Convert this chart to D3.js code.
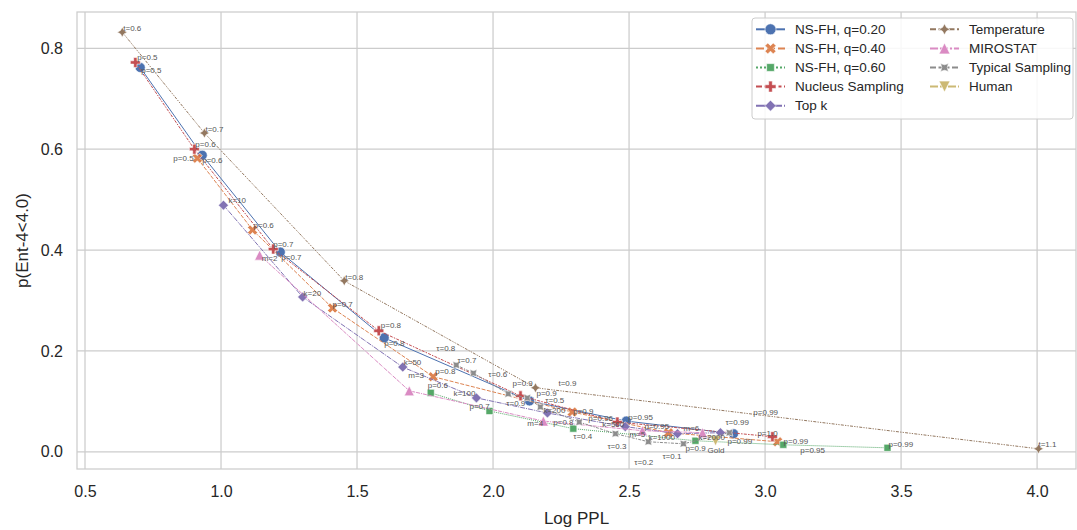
<!DOCTYPE html>
<html>
<head>
<meta charset="utf-8">
<title>p(Ent) vs Log PPL</title>
<script src="https://d3js.org/d3.v7.min.js"></script>
<style>
  body { margin: 0; background: #fff; }
  svg { font-family: "Liberation Sans", Arial, sans-serif; }
  .tick-label { fill: #262626; font-size: 16px; }
  .axis-title { fill: #262626; font-size: 17px; }
  .pt-label { fill: #555; font-size: 8px; }
  .legend text { fill: #262626; font-size: 13.5px; }
</style>
</head>
<body>
<svg width="1077" height="530"></svg>
<script>
// ---- data ----
const seriesNames = ["NS-FH, q=0.20", "NS-FH, q=0.40", "NS-FH, q=0.60", "Nucleus Sampling",
                     "Top k", "Temperature", "MIROSTAT", "Typical Sampling", "Human"];

const nsfh20Labels = ["p=0.5", "p=0.6", "p=0.7", "p=0.8", "p=0.9", "p=0.95", "p=0.99"];
const nsfh20PPL = [0.703, 0.931, 1.218, 1.600, 2.134, 2.490, 2.884];
const nsfh20Ent = [0.762, 0.588, 0.396, 0.226, 0.101, 0.061, 0.036];

const nsfh40Labels = ["p=0.5", "p=0.6", "p=0.7", "p=0.8", "p=0.9", "p=0.95", "p=0.99"];
const nsfh40PPL = [0.913, 1.116, 1.410, 1.780, 2.291, 2.645, 3.046];
const nsfh40Ent = [0.582, 0.440, 0.285, 0.149, 0.079, 0.038, 0.020];

const nsfh60Labels = ["p=0.6", "p=0.7", "p=0.8", "p=0.9", "p=0.95", "p=0.99"];
const nsfh60PPL = [1.771, 1.987, 2.295, 2.744, 3.067, 3.450];
const nsfh60Ent = [0.117, 0.081, 0.046, 0.022, 0.014, 0.008];

const nucleusLabels = ["p=0.5", "p=0.6", "p=0.7", "p=0.8", "p=0.9", "p=0.96", "p=1.0"];
const nucleusPPL = [0.685, 0.902, 1.192, 1.580, 2.101, 2.457, 3.027];
const nucleusEnt = [0.772, 0.600, 0.402, 0.240, 0.111, 0.059, 0.030];

const topkLabels = ["k=10", "k=20", "k=50", "k=100", "k=200", "k=500", "k=1000", "k=2000"];
const topkPPL = [1.009, 1.300, 1.668, 1.939, 2.200, 2.486, 2.678, 2.836];
const topkEnt = [0.489, 0.307, 0.168, 0.107, 0.077, 0.050, 0.036, 0.038];

const tempLabels = ["t=0.6", "t=0.7", "t=0.8", "t=0.9", "t=1.1"];
const tempPPL = [0.637, 0.939, 1.453, 2.156, 4.005];
const tempEnt = [0.832, 0.632, 0.339, 0.127, 0.006];

const miroLabels = ["m=2", "m=3", "m=4", "m=5", "m=6"];
const miroPPL = [1.142, 1.692, 2.185, 2.549, 2.770];
const miroEnt = [0.390, 0.121, 0.061, 0.042, 0.038];

const typicalLabels = ["τ=0.8", "τ=0.7", "τ=0.6", "τ=0.9", "τ=0.5", "τ=0.4", "τ=0.3", "τ=0.2", "τ=0.1", "τ=0.99"];
const typicalPPL = [1.865, 1.928, 2.056, 2.126, 2.174, 2.317, 2.450, 2.571, 2.700, 2.869];
const typicalEnt = [0.172, 0.156, 0.115, 0.107, 0.089, 0.059, 0.036, 0.020, 0.016, 0.038];

const humanLabels = ["Gold"];
const humanPPL = [2.818];
const humanEnt = [0.022];

// a label in the reference that sits on the temperature line without a marker
const extraLabels = [{ text: "p=0.99", ppl: 2.957, ent: 0.079 }];

const xTicks = [0.5, 1.0, 1.5, 2.0, 2.5, 3.0, 3.5, 4.0];
const yTicks = [0.0, 0.2, 0.4, 0.6, 0.8];

// ---- styles (seaborn deep palette, default markers and dashes) ----
const colors = ["#4c72b0", "#dd8452", "#55a868", "#c44e52", "#8172b3", "#937860", "#da8bc3", "#8c8c8c", "#ccb974"];
const markers = ["o", "X", "sq", "P", "dia", "star", "^", "starR", "v"];
const dashes = [null, [4, 1.5], [1, 1], [3, 1.25, 1.5, 1.25], [5, 1, 1, 1],
                [3, 1.25, 1.25, 1.25, 1.25, 1.25], [4, 1, 4, 1, 1, 1],
                [3, 1.25, 3, 1.25, 1.25, 1.25], [4, 1, 1, 1, 1, 1]];

// label offsets in px (left edge, vertical centre) relative to the marker
const labelNudge = [
  [[1, 3], [0, 5], [1, 5], [0, 5], [7, -8], [2, -4], [-6, 8]],
  [[-24, 0], [1, -5], [0, -4], [2, -5], [1, -1], [-24, -6], [6, -1]],
  [[-3, -8], [-20, -5], [-20, -6], [-10, 7], [17, 5], [1, -4]],
  [[2, -5], [1, -5], [0, -5], [2, -6], [-8, -13], [-29, -4], [-15, -4]],
  [[5, -5], [1, -4], [1, -5], [-23, -5], [-4, -3], [-23, -2], [-29, 4], [-22, 5]],
  [[1, -4], [1, -4], [1, -4], [23, -5], [0, -5]],
  [[2, 3], [-1, -16], [-16, 2], [-13, 4], [-19, -4]],
  [[-20, -17], [-16, -13], [-20, -20], [-21, 5], [5, -7], [-6, 14], [-8, 13], [-14, 20], [-21, 12], [-4, -10]],
  [[-8, 9]]
];

const rawSeries = [
  [nsfh20PPL, nsfh20Ent, nsfh20Labels],
  [nsfh40PPL, nsfh40Ent, nsfh40Labels],
  [nsfh60PPL, nsfh60Ent, nsfh60Labels],
  [nucleusPPL, nucleusEnt, nucleusLabels],
  [topkPPL, topkEnt, topkLabels],
  [tempPPL, tempEnt, tempLabels],
  [miroPPL, miroEnt, miroLabels],
  [typicalPPL, typicalEnt, typicalLabels],
  [humanPPL, humanEnt, humanLabels]
];

const series = rawSeries.map((r, i) => ({
  name: seriesNames[i],
  color: colors[i],
  marker: markers[i],
  dash: dashes[i],
  points: r[0].map((v, j) => ({ ppl: v, ent: r[1][j], label: r[2][j], nudge: labelNudge[i][j] }))
}));

// marker outlines, following matplotlib's unit shapes
function poly(pts) {
  return "M" + pts.map(p => p[0].toFixed(2) + "," + p[1].toFixed(2)).join("L") + "Z";
}
function markerPath(kind, s) {
  const h = s / 2;
  if (kind === "o") return d3.symbol(d3.symbolCircle, Math.PI * h * h)();
  if (kind === "X") {
    const v = [[-1, -2], [0, -1], [1, -2], [2, -1], [1, 0], [2, 1], [1, 2], [0, 1], [-1, 2], [-2, 1], [-1, 0], [-2, -1]];
    return poly(v.map(p => [p[0] * s / 4, p[1] * s / 4]));
  }
  if (kind === "P") {
    const v = [[-1, -3], [1, -3], [1, -1], [3, -1], [3, 1], [1, 1], [1, 3], [-1, 3], [-1, 1], [-3, 1], [-3, -1], [-1, -1]];
    return poly(v.map(p => [p[0] * s / 6, p[1] * s / 6]));
  }
  if (kind === "sq" || kind === "dia") {
    const rot = kind === "sq" ? Math.PI / 4 : 0;
    return poly(d3.range(4).map(k => {
      const a = -Math.PI / 2 + k * Math.PI / 2 + rot;
      return [h * Math.cos(a), h * Math.sin(a)];
    }));
  }
  if (kind === "star" || kind === "starR") {
    const rot = kind === "starR" ? Math.PI / 4 : 0;
    return poly(d3.range(8).map(k => {
      const a = -Math.PI / 2 + k * Math.PI / 4 + rot;
      const r = k % 2 === 0 ? h : h * 0.5;
      return [r * Math.cos(a), r * Math.sin(a)];
    }));
  }
  if (kind === "^") return poly([[0, -h], [-h, h], [h, h]]);
  if (kind === "v") return poly([[0, h], [-h, -h], [h, -h]]);
}

// ---- layout ----
const svg = d3.select("svg"),
      margin = {top: 12, right: 1, bottom: 61, left: 77},
      width = +svg.attr("width") - margin.left - margin.right,
      height = +svg.attr("height") - margin.top - margin.bottom;

const x = d3.scaleLinear().domain([0.4706, 4.143]).range([margin.left, margin.left + width]);
const y = d3.scaleLinear().domain([-0.034, 0.872]).range([margin.top + height, margin.top]);

// grid
svg.append("g").selectAll("line").data(xTicks).join("line")
   .attr("x1", d => x(d)).attr("x2", d => x(d))
   .attr("y1", margin.top).attr("y2", margin.top + height)
   .attr("stroke", "#cccccc").attr("stroke-width", 1.25);
svg.append("g").selectAll("line").data(yTicks).join("line")
   .attr("x1", margin.left).attr("x2", margin.left + width)
   .attr("y1", d => y(d)).attr("y2", d => y(d))
   .attr("stroke", "#cccccc").attr("stroke-width", 1.25);

// axes (labels only, no tick marks)
const xAxis = svg.append("g")
   .attr("transform", "translate(0," + (margin.top + height) + ")")
   .call(d3.axisBottom(x).tickValues(xTicks).tickFormat(d3.format(".1f")).tickSize(0).tickPadding(17));
const yAxis = svg.append("g")
   .attr("transform", "translate(" + margin.left + ",0)")
   .call(d3.axisLeft(y).tickValues(yTicks).tickFormat(d3.format(".1f")).tickSize(0).tickPadding(14));
[xAxis, yAxis].forEach(a => {
  a.select(".domain").remove();
  a.selectAll("text").attr("class", "tick-label").attr("font-family", null).attr("font-size", null);
});

svg.append("text").attr("class", "axis-title")
   .attr("x", margin.left + width / 2).attr("y", 524)
   .attr("text-anchor", "middle").text("Log PPL");
svg.append("text").attr("class", "axis-title")
   .attr("transform", "translate(28," + (margin.top + height / 2) + ") rotate(-90)")
   .attr("text-anchor", "middle").text("p(Ent-4<4.0)");

// frame
svg.append("rect")
   .attr("x", margin.left).attr("y", margin.top)
   .attr("width", width).attr("height", height)
   .attr("fill", "none").attr("stroke", "#cccccc").attr("stroke-width", 1.25);

// ---- series ----
const plotLW = 1;
const line = d3.line().x(d => x(d.ppl)).y(d => y(d.ent));
const plot = svg.append("g");

series.forEach(s => {
  const sorted = s.points.slice().sort((a, b) => a.ppl - b.ppl);
  plot.append("path")
      .datum(sorted)
      .attr("d", line)
      .attr("fill", "none")
      .attr("stroke", s.color)
      .attr("stroke-width", plotLW)
      .attr("stroke-dasharray", s.dash ? s.dash.map(v => v * plotLW).join(",") : null);
  plot.append("g").selectAll("path").data(s.points).join("path")
      .attr("transform", d => "translate(" + x(d.ppl) + "," + y(d.ent) + ")")
      .attr("d", markerPath(s.marker, 10))
      .attr("fill", s.color)
      .attr("stroke", "#fff")
      .attr("stroke-width", 0.6);
});

// point labels
const labels = svg.append("g");
series.forEach(s => {
  labels.selectAll(null).data(s.points).join("text")
        .attr("class", "pt-label")
        .attr("x", d => x(d.ppl) + d.nudge[0])
        .attr("y", d => y(d.ent) + d.nudge[1])
        .attr("dy", "0.35em")
        .text(d => d.label);
});
labels.selectAll(null).data(extraLabels).join("text")
      .attr("class", "pt-label")
      .attr("x", d => x(d.ppl)).attr("y", d => y(d.ent))
      .attr("dy", "0.35em")
      .text(d => d.text);

// ---- legend ----
const legend = svg.append("g").attr("class", "legend");
legend.append("rect")
      .attr("x", 752).attr("y", 18).attr("width", 321).attr("height", 101)
      .attr("rx", 3)
      .attr("fill", "#fff").attr("fill-opacity", 0.85)
      .attr("stroke", "#cccccc").attr("stroke-width", 1);

const legLW = 2;
const entries = legend.selectAll("g.entry").data(series).join("g")
   .attr("class", "entry")
   .attr("transform", (d, i) => {
     const col = i < 5 ? 0 : 1, row = i < 5 ? i : i - 5;
     return "translate(" + (col === 0 ? 756 : 930) + "," + (29.3 + row * 19.1) + ")";
   });
entries.append("line")
   .attr("x1", 0).attr("x2", 29).attr("y1", 0).attr("y2", 0)
   .attr("stroke", d => d.color).attr("stroke-width", legLW)
   .attr("stroke-dasharray", d => d.dash ? d.dash.map(v => v * legLW).join(",") : null);
entries.append("path")
   .attr("transform", "translate(14.5,0)")
   .attr("d", d => markerPath(d.marker, 11))
   .attr("fill", d => d.color)
   .attr("stroke", "#fff").attr("stroke-width", 0.6);
entries.append("text")
   .attr("x", 39).attr("y", 0).attr("dy", "0.35em")
   .text(d => d.name);
</script>
</body>
</html>
